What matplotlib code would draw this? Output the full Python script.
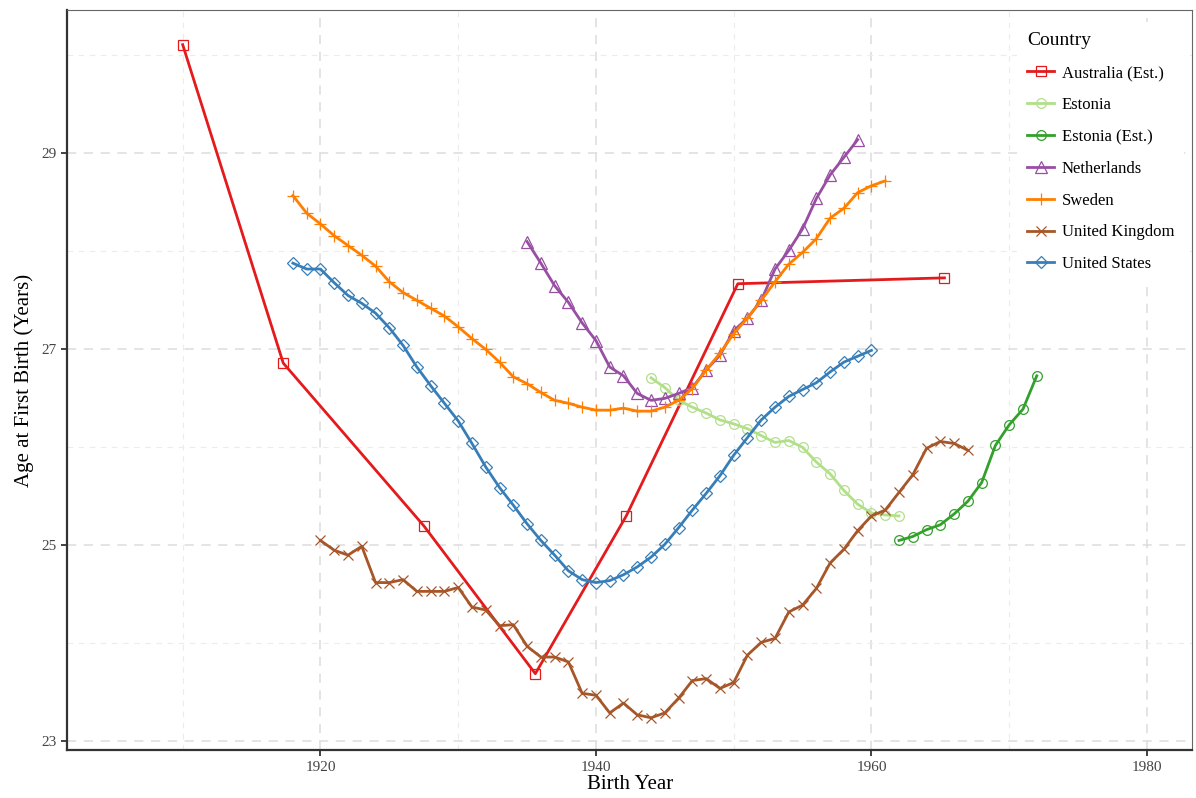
"""Age at first birth by birth cohort, several countries"""

import matplotlib.pyplot as plt
from matplotlib.ticker import MultipleLocator, FixedLocator

plt.rcParams['font.family'] = ['Liberation Serif', 'DejaVu Serif']

# Data
aus_years = [1910, 1917.3, 1927.5, 1935.6, 1942.2, 1950.3, 1965.3]
aus_age = [30.11, 26.86, 25.20, 23.69, 25.30, 27.67, 27.73]

est_years = list(range(1944, 1963))
est_age = [26.71, 26.61, 26.48, 26.41, 26.35, 26.28, 26.24, 26.19, 26.12, 26.05,
           26.07, 26.00, 25.85, 25.73, 25.56, 25.42, 25.33, 25.31, 25.30]

est_e_years = list(range(1962, 1973))
est_e_age = [25.05, 25.09, 25.16, 25.21, 25.32, 25.45, 25.64, 26.02, 26.23, 26.39, 26.73]

nld_years = list(range(1935, 1960))
nld_age = [28.10, 27.88, 27.65, 27.48, 27.27, 27.09, 26.82, 26.73, 26.55, 26.48,
           26.50, 26.55, 26.61, 26.79, 26.94, 27.19, 27.32, 27.50, 27.82, 28.01,
           28.23, 28.54, 28.78, 28.96, 29.14]

swe_years = list(range(1918, 1962))
swe_age = [28.57, 28.39, 28.28, 28.16, 28.06, 27.96, 27.85, 27.69, 27.58, 27.50,
           27.42, 27.34, 27.23, 27.11, 27.00, 26.87, 26.72, 26.65, 26.56, 26.48,
           26.45, 26.41, 26.38, 26.38, 26.40, 26.37, 26.37, 26.41, 26.48, 26.60,
           26.79, 26.96, 27.16, 27.32, 27.50, 27.69, 27.87, 27.99, 28.13, 28.34,
           28.44, 28.60, 28.67, 28.72]

uk_years = list(range(1920, 1968))
uk_age = [25.05, 24.95, 24.90, 24.99, 24.62, 24.62, 24.65, 24.53, 24.53, 24.53,
          24.57, 24.37, 24.34, 24.18, 24.19, 23.97, 23.86, 23.86, 23.81, 23.49,
          23.47, 23.29, 23.39, 23.27, 23.24, 23.29, 23.44, 23.62, 23.64, 23.54,
          23.60, 23.88, 24.01, 24.05, 24.32, 24.39, 24.56, 24.82, 24.96, 25.15,
          25.30, 25.36, 25.54, 25.72, 25.99, 26.06, 26.04, 25.97]

us_years = list(range(1918, 1961))
us_age = [27.88, 27.82, 27.82, 27.68, 27.55, 27.47, 27.37, 27.22, 27.04, 26.82,
          26.63, 26.45, 26.27, 26.04, 25.80, 25.59, 25.41, 25.22, 25.05, 24.90,
          24.74, 24.65, 24.62, 24.64, 24.70, 24.78, 24.88, 25.01, 25.18, 25.36,
          25.53, 25.71, 25.92, 26.10, 26.28, 26.41, 26.52, 26.59, 26.66, 26.77,
          26.87, 26.93, 26.99]

y_ticks = [23, 25, 27, 29]
y_minor = [24, 26, 28, 30]

series = [
    ('Australia (Est.)', aus_years, aus_age, '#E41A1C', 's', 7),
    ('Estonia', est_years, est_age, '#B2DF8A', 'o', 7),
    ('Estonia (Est.)', est_e_years, est_e_age, '#33A02C', 'o', 7),
    ('Netherlands', nld_years, nld_age, '#984EA3', '^', 8),
    ('Sweden', swe_years, swe_age, '#FF7F00', '+', 9),
    ('United Kingdom', uk_years, uk_age, '#A65628', 'x', 7),
    ('United States', us_years, us_age, '#377EB8', 'D', 6),
]

fig = plt.figure(figsize=(11.96, 7.98), dpi=100)
ax = fig.add_axes([0.056, 0.060, 0.941, 0.927])

for name, xs, ys, color, marker, size in series:
    ax.plot(xs, ys, color=color, lw=2, marker=marker, ms=size,
            mfc='none', mec=color, mew=0.9, label=name)

ax.set_xlim(1901.6, 1983.3)
ax.set_ylim(22.91, 30.46)
ax.xaxis.set_major_locator(MultipleLocator(20))
ax.xaxis.set_minor_locator(MultipleLocator(10))
ax.yaxis.set_major_locator(FixedLocator(y_ticks))
ax.yaxis.set_minor_locator(FixedLocator(y_minor))

ax.grid(which='major', color='#dcdcdc', ls=(0, (6, 5)), lw=1.1)
ax.grid(which='minor', color='#ececec', ls=(0, (5, 5)), lw=0.8)
ax.set_axisbelow(True)

ax.tick_params(which='major', direction='out', length=4, width=1.2, colors='#222222',
               labelsize=11, labelcolor='#444444')
ax.tick_params(which='minor', length=0)

for side in ('top', 'right'):
    ax.spines[side].set_color('#666666')
    ax.spines[side].set_linewidth(0.8)
for side in ('left', 'bottom'):
    ax.spines[side].set_color('#333333')
    ax.spines[side].set_linewidth(1.6)

ax.set_xlabel('Birth Year', fontsize=15, labelpad=1)
ax.set_ylabel('Age at First Birth (Years)', fontsize=15, labelpad=5)

leg = ax.legend(title='Country', loc='upper right', bbox_to_anchor=(1.0, 0.995),
                frameon=True, fontsize=12, title_fontsize=14, handlelength=1.6,
                handletextpad=0.45, labelspacing=0.95, borderpad=0.6)
leg.get_frame().set_edgecolor('none')
leg.get_frame().set_facecolor('white')
leg.get_frame().set_alpha(1)
leg._legend_box.align = 'left'

fig.savefig('out.png', dpi=100)
